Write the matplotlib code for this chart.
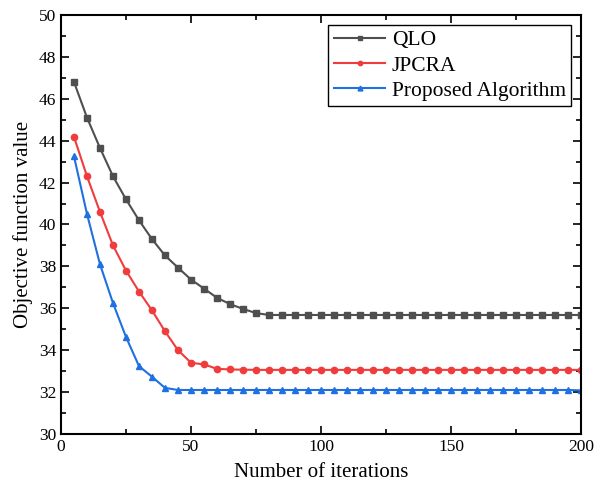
import numpy as np
import matplotlib.pyplot as plt
from matplotlib.ticker import MultipleLocator

plt.rcParams['font.family'] = ['Liberation Serif', 'DejaVu Serif']

iterations = np.arange(5, 205, 5)

qlo = [46.8, 45.1, 43.65, 42.3, 41.2, 40.2, 39.3, 38.52, 37.94, 37.37,
       36.94, 36.5, 36.2, 35.97, 35.77, 35.68, 35.68, 35.68, 35.68, 35.68,
       35.68, 35.68, 35.68, 35.68, 35.68, 35.68, 35.68, 35.68, 35.68, 35.68,
       35.68, 35.68, 35.68, 35.68, 35.68, 35.68, 35.68, 35.68, 35.68, 35.68]
jpcra = [44.18, 42.3, 40.6, 39.0, 37.8, 36.8, 35.9, 34.9, 34.0, 33.4,
         33.32, 33.11, 33.08, 33.07, 33.06, 33.06, 33.06, 33.06, 33.06, 33.06,
         33.06, 33.06, 33.06, 33.06, 33.06, 33.06, 33.06, 33.06, 33.06, 33.06,
         33.06, 33.06, 33.06, 33.06, 33.06, 33.06, 33.06, 33.06, 33.06, 33.06]
proposed = [43.25, 40.5, 38.1, 36.25, 34.63, 33.24, 32.73, 32.2, 32.1, 32.1,
            32.1, 32.1, 32.1, 32.1, 32.1, 32.1, 32.1, 32.1, 32.1, 32.1,
            32.1, 32.1, 32.1, 32.1, 32.1, 32.1, 32.1, 32.1, 32.1, 32.1,
            32.1, 32.1, 32.1, 32.1, 32.1, 32.1, 32.1, 32.1, 32.1, 32.08]

fig = plt.figure(figsize=(5.95, 4.93), dpi=100)
ax = fig.add_axes([0.1025, 0.1197, 0.874, 0.85])

ax.plot(iterations, qlo, color='#4f4f4f', marker='s', markersize=4.5, linewidth=1.5, label='QLO')
ax.plot(iterations, jpcra, color='#f03c3c', marker='o', markersize=4.5, linewidth=1.5, label='JPCRA')
ax.plot(iterations, proposed, color='#1f70e0', marker='^', markersize=5, linewidth=1.5, label='Proposed Algorithm')

ax.set_xlim(0, 200)
ax.set_ylim(30, 50)
ax.xaxis.set_major_locator(MultipleLocator(50))
ax.xaxis.set_minor_locator(MultipleLocator(25))
ax.yaxis.set_major_locator(MultipleLocator(2))
ax.yaxis.set_minor_locator(MultipleLocator(1))
ax.tick_params(which='both', direction='in', top=True, right=True, width=1.2, labelsize=12.5)
ax.tick_params(which='major', length=6)
ax.tick_params(which='minor', length=3.5)
for s in ax.spines.values():
    s.set_linewidth(1.5)

ax.set_xlabel('Number of iterations', fontsize=15, labelpad=6)
ax.set_ylabel('Objective function value', fontsize=15, labelpad=4)

leg = ax.legend(loc='upper right', fontsize=15.5, fancybox=False, edgecolor='black',
                framealpha=1, handlelength=2.4, borderpad=0.25, labelspacing=0.25,
                handletextpad=0.3, borderaxespad=0.45, markerscale=0.7)
leg.get_frame().set_linewidth(1.0)

fig.savefig('out.png', dpi=100)
